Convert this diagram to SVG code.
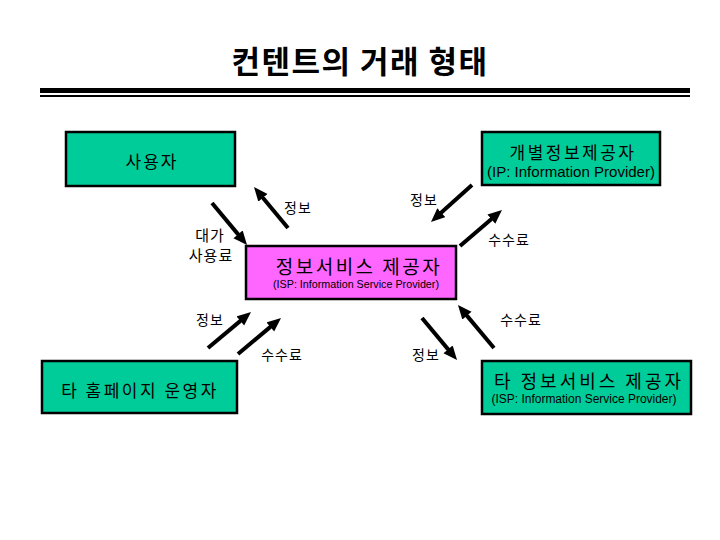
<svg xmlns="http://www.w3.org/2000/svg" width="720" height="540" viewBox="0 0 720 540">
<defs>
<style>
.kr{font-family:"Noto Sans CJK KR","Liberation Sans",sans-serif;fill:#000;}
.en{font-family:"Liberation Sans",Arial,sans-serif;fill:#000;}
.box{fill:#00CC99;stroke:#000;stroke-width:2.5;}
.pink{fill:#FF66FF;stroke:#000;stroke-width:2.5;}
.arr{stroke:#000;stroke-width:4;fill:none;marker-end:url(#ah);}
.lbl{font-size:14px;letter-spacing:1px;}
</style>
<marker id="ah" markerUnits="userSpaceOnUse" markerWidth="16" markerHeight="14" refX="6" refY="6" orient="auto">
<path d="M0,0 L14,6 L0,12 z" fill="#000"/>
</marker>
</defs>
<rect width="720" height="540" fill="#fff"/>
<g id="title">
<text class="kr" x="360" y="59" font-size="31" font-weight="bold" letter-spacing="1.5" text-anchor="middle" dominant-baseline="central">컨텐트의 거래 형태</text>
<rect x="40" y="88" width="650" height="5" fill="#000"/>
<rect x="40" y="95" width="650" height="2" fill="#000"/>
</g>
<g id="user">
<rect class="box" x="66" y="132" width="169" height="54"/>
<text class="kr" x="152" y="160" font-size="17" letter-spacing="2" text-anchor="middle" dominant-baseline="central">사용자</text>
</g>
<g id="ip">
<rect class="box" x="482" y="132" width="178" height="53"/>
<text class="kr" x="573" y="151" font-size="17" letter-spacing="2.5" text-anchor="middle" dominant-baseline="central">개별정보제공자</text>
<text class="en" x="571" y="171" font-size="15" text-anchor="middle" dominant-baseline="central" textLength="168" lengthAdjust="spacingAndGlyphs">(IP: Information Provider)</text>
</g>
<g id="isp">
<rect class="pink" x="246" y="246" width="210" height="53"/>
<text class="kr" x="359" y="265" font-size="19" letter-spacing="2.5" text-anchor="middle" dominant-baseline="central">정보서비스 제공자</text>
<text class="en" x="356" y="284" font-size="11" text-anchor="middle" dominant-baseline="central" textLength="166" lengthAdjust="spacingAndGlyphs">(ISP: Information Service Provider)</text>
</g>
<g id="homepage">
<rect class="box" x="42" y="361" width="195" height="52"/>
<text class="kr" x="140" y="389" font-size="17" letter-spacing="2.5" text-anchor="middle" dominant-baseline="central">타 홈페이지 운영자</text>
</g>
<g id="other-isp">
<rect class="box" x="482" y="361" width="209" height="53"/>
<text class="kr" x="589" y="380" font-size="18" letter-spacing="3" text-anchor="middle" dominant-baseline="central">타 정보서비스 제공자</text>
<text class="en" x="584" y="399" font-size="12" text-anchor="middle" dominant-baseline="central" textLength="185" lengthAdjust="spacingAndGlyphs">(ISP: Information Service Provider)</text>
</g>
<g id="connectors">
<line class="arr" x1="288" y1="228" x2="259.1" y2="193.2"/>
<line class="arr" x1="212" y1="203" x2="241.9" y2="238.9"/>
<line class="arr" x1="472" y1="185" x2="436.9" y2="216.6"/>
<line class="arr" x1="460" y1="246" x2="495.9" y2="215.2"/>
<line class="arr" x1="208" y1="348" x2="244.9" y2="317.1"/>
<line class="arr" x1="238" y1="354" x2="274.9" y2="323.1"/>
<line class="arr" x1="422" y1="318" x2="451.9" y2="353.9"/>
<line class="arr" x1="494" y1="348" x2="463.1" y2="311.1"/>
</g>
<g id="labels">
<text class="kr lbl" x="298" y="207" text-anchor="middle" dominant-baseline="central">정보</text>
<text class="kr" x="210" y="234" font-size="15" letter-spacing="1" text-anchor="middle" dominant-baseline="central">대가</text>
<text class="kr" x="211" y="254" font-size="15" letter-spacing="1" text-anchor="middle" dominant-baseline="central">사용료</text>
<text class="kr lbl" x="424" y="199" text-anchor="middle" dominant-baseline="central">정보</text>
<text class="kr lbl" x="509" y="239" text-anchor="middle" dominant-baseline="central">수수료</text>
<text class="kr lbl" x="210" y="319" text-anchor="middle" dominant-baseline="central">정보</text>
<text class="kr lbl" x="282" y="354" text-anchor="middle" dominant-baseline="central">수수료</text>
<text class="kr lbl" x="426" y="354" text-anchor="middle" dominant-baseline="central">정보</text>
<text class="kr lbl" x="521" y="319" text-anchor="middle" dominant-baseline="central">수수료</text>
</g>
</svg>
